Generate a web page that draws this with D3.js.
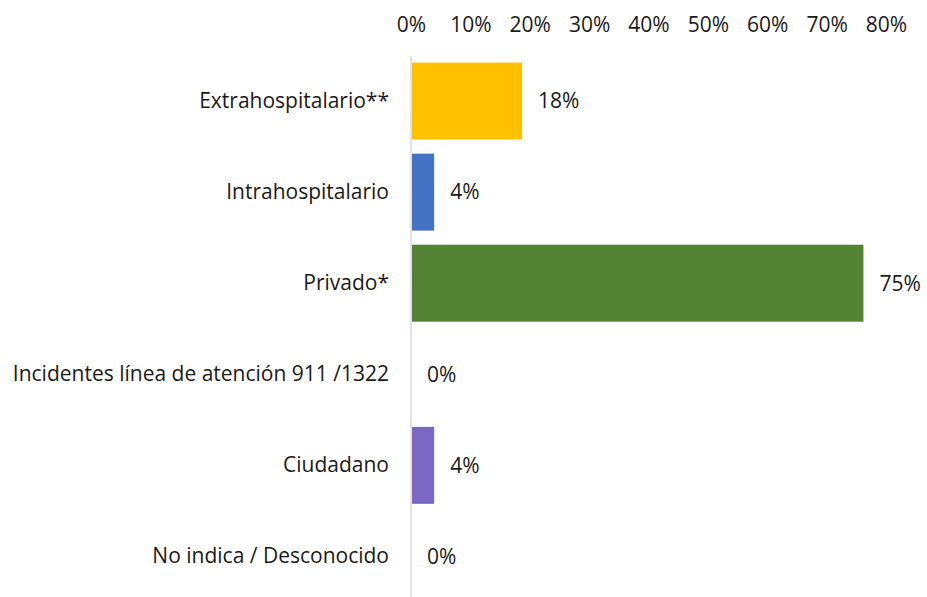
<!DOCTYPE html>
<html>
<head>
<meta charset="utf-8">
<script src="https://cdn.jsdelivr.net/npm/d3@7"></script>
<style>
  body { margin: 0; background: #fff; }
  svg text { font-family: "Open Sans", "Noto Sans", sans-serif; fill: #1a1a1a; }
</style>
</head>
<body>
<svg id="canvas" width="927" height="597"></svg>
<script>
let categories = ['Extrahospitalario**', 'Intrahospitalario', 'Privado*', 'Incidentes línea de atención 911 /1322', 'Ciudadano', 'No indica / Desconocido']
let values = [18.7, 3.9, 76.2, 0, 3.9, 0]
let valueLabels = ['18%', '4%', '75%', '0%', '4%', '0%']
let colors = ['#FFC000', '#4472C4', '#548235', '#A5A5A5', '#7B68C4', '#ED7D31']
let ticks = [0, 10, 20, 30, 40, 50, 60, 70, 80]

let canvas = d3.select('#canvas')
let fontSize = 21

let x = d3.scaleLinear().domain([0, 80]).range([411, 886])
let y = d3.scaleBand().domain(categories).range([55.5, 602]).paddingInner(0.155).paddingOuter(0.0775)

// top axis labels
canvas.append('g')
  .attr('transform', 'translate(0,32)')
  .call(d3.axisTop(x).tickValues(ticks).tickFormat(d => d + '%').tickSize(0).tickPadding(0))
  .call(g => g.select('.domain').remove())
  .selectAll('text')
  .attr('font-size', fontSize)
  .attr('fill', '#1a1a1a')
  .attr('font-family', '"Open Sans", "Noto Sans", sans-serif')

// category labels
canvas.append('g')
  .attr('transform', 'translate(411,0)')
  .call(d3.axisLeft(y).tickSize(0).tickPadding(22))
  .call(g => g.select('.domain').remove())
  .selectAll('text')
  .attr('font-size', fontSize)
  .attr('fill', '#1a1a1a')
  .attr('font-family', '"Open Sans", "Noto Sans", sans-serif')

// bars
canvas.selectAll('rect.bar')
  .data(values)
  .enter()
  .append('rect')
  .attr('class', 'bar')
  .attr('x', x(0) + 1)
  .attr('y', (d, i) => y(categories[i]))
  .attr('height', y.bandwidth())
  .attr('width', d => Math.max(0, x(d) - x(0) - 1))
  .attr('fill', (d, i) => colors[i])

// vertical axis line
canvas.append('line')
  .attr('x1', x(0)).attr('x2', x(0))
  .attr('y1', 56).attr('y2', 602)
  .attr('stroke', '#d9d9d9')
  .attr('stroke-width', 1.5)

// value labels
canvas.selectAll('text.val')
  .data(values)
  .enter()
  .append('text')
  .attr('class', 'val')
  .attr('x', d => x(d) + 16)
  .attr('y', (d, i) => y(categories[i]) + y.bandwidth() / 2)
  .attr('dy', '0.35em')
  .attr('font-size', fontSize)
  .text((d, i) => valueLabels[i])
</script>
</body>
</html>
